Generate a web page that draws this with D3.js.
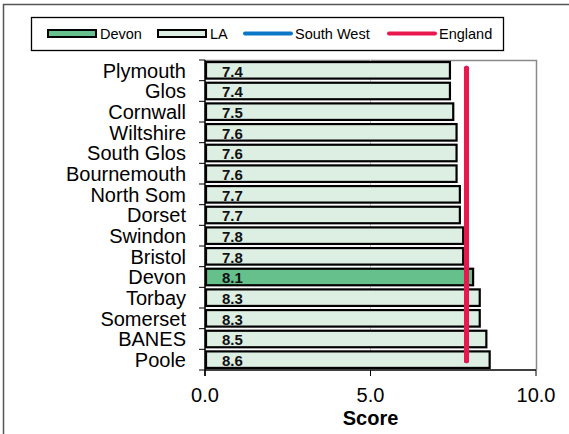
<!DOCTYPE html>
<html><head><meta charset="utf-8">
<script src="https://cdn.jsdelivr.net/npm/d3@7"></script>
<style>
html,body{margin:0;padding:0;background:#fff;}
svg{display:block;font-family:"Liberation Sans",Arial,sans-serif;}
</style></head>
<body>
<svg id="chart" width="569" height="434"></svg>
<script>
const categories = ["Plymouth","Glos","Cornwall","Wiltshire","South Glos","Bournemouth","North Som","Dorset","Swindon","Bristol","Devon","Torbay","Somerset","BANES","Poole"];
const values = [7.4,7.4,7.5,7.6,7.6,7.6,7.7,7.7,7.8,7.8,8.1,8.3,8.3,8.5,8.6];
const highlight = "Devon";
const southWest = 7.9;
const england = 7.9;
const xTicks = [0,5,10];
const legendItems = [
  {label:"Devon", type:"bar", color:"#66C08C"},
  {label:"LA", type:"bar", color:"#DDEEE3"},
  {label:"South West", type:"line", color:"#0A76C8"},
  {label:"England", type:"line", color:"#E8184F"}
];

const svg = d3.select("#chart");
const W = 569, H = 434;
const L = 205, R = 536, T = 60, B = 370;

// outer frame (cropped at right/bottom)
svg.append("path").attr("d", `M3.5,${H} L3.5,4.5 L${W},4.5`)
  .attr("fill","none").attr("stroke","#555").attr("stroke-width",1.5);

const x = d3.scaleLinear().domain([0,10]).range([L,R]);
const y = d3.scaleBand().domain(categories).range([T,B]).paddingInner(0.2).paddingOuter(0.1);
const step = y.step();

// plot border (top & right gray)
svg.append("path").attr("d", `M${L},${T+0.5} L${R+0.5},${T+0.5} L${R+0.5},${B}`)
  .attr("fill","none").attr("stroke","#8a8a8a").attr("stroke-width",1.5);

// gridline
svg.append("g").selectAll("line").data(xTicks.filter(d=>d>0 && d<10)).join("line")
  .attr("x1",d=>x(d)).attr("x2",d=>x(d)).attr("y1",T).attr("y2",B)
  .attr("stroke","#c8c8c8").attr("stroke-width",1);

// bars
svg.append("g").selectAll("rect").data(categories).join("rect")
  .attr("x", x(0)+1)
  .attr("y", d=>y(d))
  .attr("width", (d,i)=>x(values[i])-x(0)-1)
  .attr("height", y.bandwidth())
  .attr("fill", d=> d===highlight ? legendItems[0].color : legendItems[1].color)
  .attr("stroke","#000").attr("stroke-width",2.2);

// value labels
svg.append("g").selectAll("text").data(categories).join("text")
  .attr("x", x(0)+17)
  .attr("y", d=>y(d)+y.bandwidth()-2)
  .attr("font-size",15).attr("font-weight","bold").attr("fill","#111")
  .text((d,i)=>values[i].toFixed(1));

// reference lines
const lineTop = T + step*0.4, lineBot = B - step*0.45;
[[southWest, legendItems[2].color],[england, legendItems[3].color]].forEach(([v,c])=>{
  svg.append("line").attr("x1",x(v)).attr("x2",x(v)).attr("y1",lineTop).attr("y2",lineBot)
    .attr("stroke",c).attr("stroke-width",5).attr("stroke-linecap","round");
});

// y axis
svg.append("line").attr("x1",L).attr("x2",L).attr("y1",T).attr("y2",B+6).attr("stroke","#000").attr("stroke-width",1.5);
svg.append("g").selectAll("line").data(d3.range(categories.length+1)).join("line")
  .attr("x1",L-6).attr("x2",L).attr("y1",i=>T+i*step).attr("y2",i=>T+i*step)
  .attr("stroke","#000").attr("stroke-width",1);
svg.append("g").selectAll("text").data(categories).join("text")
  .attr("x", 186).attr("y", d=>y(d)+y.bandwidth()/2)
  .attr("dy","0.36em").attr("text-anchor","end").attr("font-size",20).attr("fill","#000")
  .text(d=>d);

// x axis
svg.append("line").attr("x1",L).attr("x2",R).attr("y1",B).attr("y2",B).attr("stroke","#000").attr("stroke-width",1.5);
svg.append("g").selectAll("line").data(xTicks).join("line")
  .attr("x1",d=>x(d)).attr("x2",d=>x(d)).attr("y1",B).attr("y2",B+6)
  .attr("stroke","#000").attr("stroke-width",1);
svg.append("g").selectAll("text").data(xTicks).join("text")
  .attr("x",d=>x(d)).attr("y",402).attr("text-anchor","middle").attr("font-size",20).attr("fill","#000")
  .text(d=>d.toFixed(1));
svg.append("text").attr("x",x(5)).attr("y",425).attr("text-anchor","middle")
  .attr("font-size",20).attr("font-weight","bold").attr("fill","#000").text("Score");

// legend
const lg = svg.append("g");
lg.append("rect").attr("x",31.5).attr("y",17.5).attr("width",472).attr("height",33)
  .attr("fill","#fff").attr("stroke","#000").attr("stroke-width",1.3);
const lx = [48,158,243,387];
legendItems.forEach((it,i)=>{
  const g = lg.append("g");
  if(it.type==="bar"){
    g.append("rect").attr("x",lx[i]).attr("y",30).attr("width",48).attr("height",7)
      .attr("fill",it.color).attr("stroke","#000").attr("stroke-width",2);
  } else {
    g.append("line").attr("x1",lx[i]+2).attr("x2",lx[i]+48).attr("y1",33.5).attr("y2",33.5)
      .attr("stroke",it.color).attr("stroke-width",4).attr("stroke-linecap","round");
  }
  g.append("text").attr("x",lx[i]+52).attr("y",33.5).attr("dy","0.36em")
    .attr("font-size",14.5).attr("fill","#000").text(it.label);
});
</script>
</body></html>
